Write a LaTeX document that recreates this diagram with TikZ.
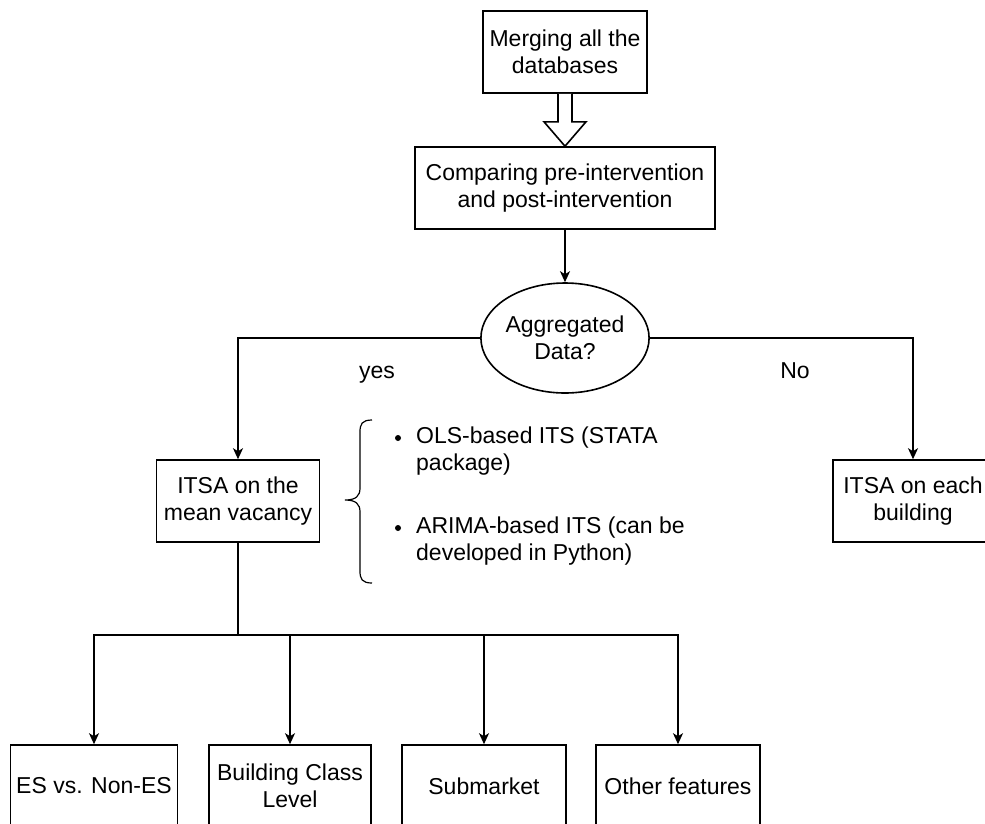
\documentclass[tikz,border=0pt]{standalone}
\usepackage{fontspec}
\setmainfont{Liberation Sans}
\usetikzlibrary{arrows.meta,shapes.geometric,calc}
\begin{document}
\begin{tikzpicture}[x=1pt,y=-1pt,
  lw/.style={line width=1.6pt},
  box/.style={draw,lw,rectangle,inner sep=0pt,minimum height=82pt,align=center,
    font=\fontsize{23}{27}\selectfont},
  arr/.style={lw,-{Stealth[length=11pt,width=10pt,inset=3pt]}},
  lbl/.style={font=\fontsize{23}{27}\selectfont,inner sep=0pt,align=left}]
\useasboundingbox (0,0) rectangle (985,823);
\clip (0,0) rectangle (985,823);
\fill[white] (0,0) rectangle (985,823);

\node[box,minimum width=164pt] (merge) at (565,52) {Merging all the\\databases};
\node[box,minimum width=300pt] (cmp) at (565,188) {Comparing pre-intervention\\and post-intervention};
\node[draw,lw,ellipse,inner sep=0pt,minimum width=164pt,minimum height=110pt,align=center,
  font=\fontsize{23}{27}\selectfont] (agg) at (565,338) {Aggregated\\Data?};
\node[box,minimum width=163pt] (mean) at (238,501) {ITSA on the\\mean vacancy};
\node[box,minimum width=160pt] (each) at (913,501) {ITSA on each\\building};

\node[box,minimum width=167pt] (es) at (94,786) {ES vs. Non-ES};
\node[box,minimum width=162pt] (bcl) at (290,786) {Building Class\\Level};
\node[box,minimum width=164pt] (sub) at (484,786) {Submarket};
\node[box,minimum width=164pt] (oth) at (678,786) {Other features};

% hollow arrow
\draw[lw,fill=white]
  ($(merge.south)+(-7,0)$) -- ($(merge.south)+(-7,28)$) -- ($(merge.south)+(-21,28)$)
  -- (cmp.north) -- ($(merge.south)+(21,28)$) -- ($(merge.south)+(7,28)$)
  -- ($(merge.south)+(7,0)$);

\draw[arr] (cmp.south) -- (agg.north);
\draw[arr] (agg.west) -| (mean.north);
\draw[arr] (agg.east) -| (each.north);

\node[lbl,text height=16pt,text depth=5pt] (yes) at (377,373) {yes};
\node[lbl,text height=16pt,text depth=5pt] (no) at (795,373) {No};

% brace
\draw[line width=1.2pt] (372,420) .. controls (362,420) and (360,424) .. (360,432)
  -- (360,488) .. controls (360,496) and (356,500) .. (345,500)
  .. controls (356,500) and (360,504) .. (360,512)
  -- (360,571) .. controls (360,579) and (362,583) .. (372,583);

\fill (398,438) circle (3pt);
\node[lbl,anchor=west] (b1) at (416,451.5) {OLS-based ITS (STATA\\package)};
\fill (398,528) circle (3pt);
\node[lbl,anchor=west] (b2) at (416,541.5) {ARIMA-based ITS (can be\\developed in Python)};

\coordinate (split) at (238,635);
\draw[lw] (mean.south) -- (split);
\draw[arr] (split) -| (es.north);
\draw[arr] (split) -| (bcl.north);
\draw[arr] (split) -| (sub.north);
\draw[arr] (split) -| (oth.north);
\end{tikzpicture}
\end{document}
